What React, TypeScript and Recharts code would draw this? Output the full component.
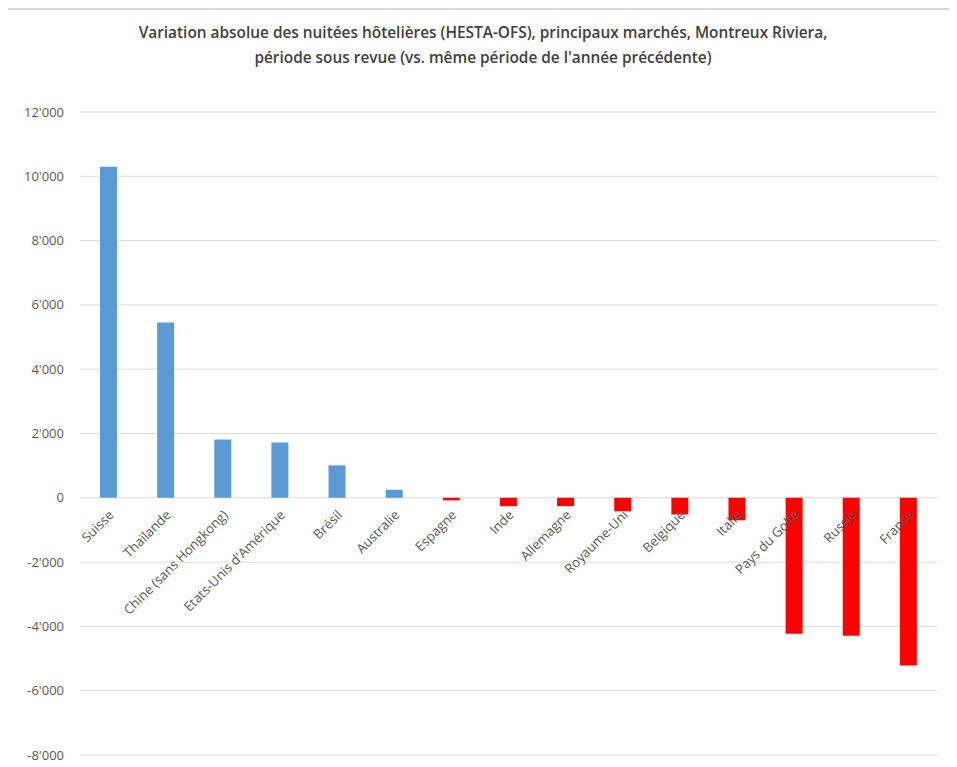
import React from 'react';
import { BarChart, Bar, XAxis, YAxis, CartesianGrid, Cell } from 'recharts';

const markets = [
    'Suisse', 'Thaïlande', 'Chine (sans Hongkong)', "Etats-Unis d'Amérique", 'Brésil', 'Australie',
    'Espagne', 'Inde', 'Allemagne', 'Royaume-Uni', 'Belgique', 'Italie', 'Pays du Golfe', 'Russie', 'France',
];
const variations = [10300, 5450, 1810, 1720, 1010, 250, -80, -260, -260, -420, -520, -700, -4230, -4290, -5220];
const yTicks = [-8000, -6000, -4000, -2000, 0, 2000, 4000, 6000, 8000, 10000, 12000];

const Y_MIN = -8000;
const Y_MAX = 12000;
const CHART_W = 948;
const CHART_H = 758;
const X_AXIS_H = 20;
const MARGIN = { top: 102, right: 18, bottom: 13 - X_AXIS_H, left: 0 };
const FONT = "'Open Sans', sans-serif";

const data = markets.map((name, i) => ({ name, value: variations[i] }));

const formatNumber = (v: number) => {
    const s = Math.abs(v).toString().replace(/\B(?=(\d{3})+(?!\d))/g, "'");
    return v < 0 ? `-${s}` : s;
};

// category labels sit on the zero line, not at the plot bottom
const plotHeight = CHART_H - MARGIN.top - MARGIN.bottom - X_AXIS_H;
const zeroOffset = plotHeight * (0 - Y_MIN) / (Y_MAX - Y_MIN);

const CategoryTick = (props: any) => {
    const { x, y, payload } = props;
    const tx = x + 6;
    const ty = y - zeroOffset + 16;
    return (
        <text x={tx} y={ty} transform={`rotate(-45 ${tx} ${ty})`} textAnchor="end" fill="#595959" fontSize={13.2} fontFamily={FONT}>
            {payload.value}
        </text>
    );
};

const ValueTick = (props: any) => {
    const { x, y, payload } = props;
    return (
        <text x={x} y={y} dy={4.5} textAnchor="end" fill="#595959" fontSize={13} fontFamily={FONT}>
            {formatNumber(payload.value)}
        </text>
    );
};

const App: React.FC = () => {
    return (
        <div style={{ position: 'relative', width: 960, height: 780, marginLeft: -3, borderLeft: '2px solid #cfcfcf', borderTop: '2px solid #d9d9d9', background: '#fff' }}>
            <div style={{ position: 'absolute', left: 0, top: 10, width: 952, textAlign: 'center', fontFamily: FONT, fontWeight: 600, fontSize: 15.4, lineHeight: '25px', color: '#404040' }}>
                Variation absolue des nuitées hôtelières (HESTA-OFS), principaux marchés, Montreux Riviera,<br />
                période sous revue (vs. même période de l'année précédente)
            </div>
            <BarChart width={CHART_W} height={CHART_H} data={data} margin={MARGIN} barSize={17}>
                <CartesianGrid vertical={false} stroke="#d9d9d9" />
                <XAxis
                    dataKey="name"
                    height={X_AXIS_H}
                    axisLine={false}
                    tickLine={false}
                    tickSize={0}
                    interval={0}
                    tick={(p: any) => <CategoryTick {...p} />}
                />
                <YAxis
                    domain={[Y_MIN, Y_MAX]}
                    ticks={yTicks}
                    width={73}
                    axisLine={false}
                    tickLine={false}
                    tickMargin={10}
                    tick={(p: any) => <ValueTick {...p} />}
                />
                <Bar dataKey="value" isAnimationActive={false}>
                    {data.map((d) => (
                        <Cell key={d.name} fill={d.value >= 0 ? '#5B9BD5' : '#FF0000'} />
                    ))}
                </Bar>
            </BarChart>
        </div>
    );
};

export default App;
